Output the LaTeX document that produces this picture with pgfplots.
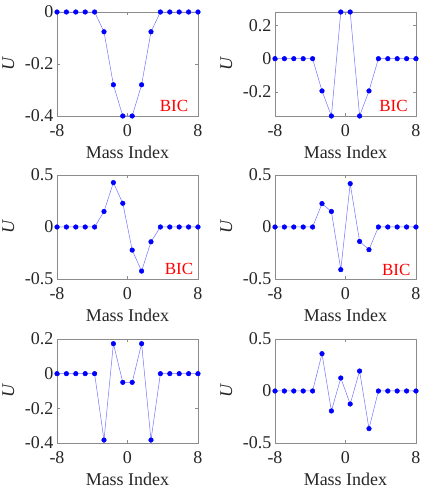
\documentclass[border=0pt]{standalone}
\usepackage{pgfplots}
\pgfplotsset{compat=1.18}
\usepackage{fontspec}
\setmainfont{Liberation Serif}

\definecolor{framegray}{gray}{0.55}
\definecolor{linecol}{rgb}{0.45,0.45,1}

\pgfplotsset{
  massplot/.style={
    anchor=south west,
    scale only axis,
    width=141pt, height=104pt,
    xmin=-8, xmax=8,
    xtick={-8,0,8}, xticklabels={-8,0,8},
    axis line style={framegray},
    tick style={framegray},
    tick align=inside,
    major tick length=3pt,
    every tick label/.append style={font=\fontsize{18}{20}\selectfont, black!85},
    xticklabel style={yshift=-5pt},
    xlabel={Mass Index},
    ylabel={\textit{U}},
    label style={font=\fontsize{18}{20}\selectfont, black!85},
    xlabel style={at={(axis description cs:0.5,-0.35)}, anchor=center},
    ylabel style={at={(axis description cs:-0.345,0.5)}, anchor=center},
    clip=false,
  },
  modeline/.style={
    color=linecol, line width=0.5pt,
    mark=*, mark size=2.3pt, mark options={draw=blue, fill=blue},
  },
}
\tikzset{bic/.style={red, font=\fontsize{17}{19}\selectfont}}

\begin{document}
\begin{tikzpicture}
\path[use as bounding box] (0,0) rectangle (436pt,491pt);

% row 1, left
\begin{axis}[massplot, at={(57pt,375pt)},
  ymin=-0.4, ymax=0,
  ytick={-0.4,-0.2,0}, yticklabels={-0.4,-0.2,0}]
  \addplot[modeline] coordinates {
    (-8,0) (-6.9333,0) (-5.8667,0) (-4.8,0) (-3.7333,0) (-2.6667,-0.076)
    (-1.6,-0.28) (-0.5333,-0.4) (0.5333,-0.4) (1.6,-0.28) (2.6667,-0.076)
    (3.7333,0) (4.8,0) (5.8667,0) (6.9333,0) (8,0) };
  \node[bic] at (rel axis cs:0.83,0.1) {BIC};
\end{axis}

% row 1, right
\begin{axis}[massplot, at={(275pt,375pt)},
  ymin=-0.345, ymax=0.281,
  ytick={-0.2,0,0.2}, yticklabels={-0.2,0,0.2}]
  \addplot[modeline] coordinates {
    (-8,0) (-6.9333,0) (-5.8667,0) (-4.8,0) (-3.7333,0) (-2.6667,-0.194)
    (-1.6,-0.345) (-0.5333,0.281) (0.5333,0.281) (1.6,-0.345) (2.6667,-0.194)
    (3.7333,0) (4.8,0) (5.8667,0) (6.9333,0) (8,0) };
  \node[bic] at (rel axis cs:0.84,0.1) {BIC};
\end{axis}

% row 2, left
\begin{axis}[massplot, at={(57pt,212pt)},
  ymin=-0.5, ymax=0.5,
  ytick={-0.5,0,0.5}, yticklabels={-0.5,0,0.5}]
  \addplot[modeline] coordinates {
    (-8,0) (-6.9333,0) (-5.8667,0) (-4.8,0) (-3.7333,0) (-2.6667,0.149)
    (-1.6,0.427) (-0.5333,0.228) (0.5333,-0.222) (1.6,-0.424) (2.6667,-0.142)
    (3.7333,0) (4.8,0) (5.8667,0) (6.9333,0) (8,0) };
  \node[bic] at (rel axis cs:0.865,0.1) {BIC};
\end{axis}

% row 2, right
\begin{axis}[massplot, at={(275pt,212pt)},
  ymin=-0.5, ymax=0.5,
  ytick={-0.5,0,0.5}, yticklabels={-0.5,0,0.5}]
  \addplot[modeline] coordinates {
    (-8,0) (-6.9333,0) (-5.8667,0) (-4.8,0) (-3.7333,0) (-2.6667,0.225)
    (-1.6,0.149) (-0.5333,-0.41) (0.5333,0.417) (1.6,-0.139) (2.6667,-0.218)
    (3.7333,0) (4.8,0) (5.8667,0) (6.9333,0) (8,0) };
  \node[bic] at (rel axis cs:0.86,0.09) {BIC};
\end{axis}

% row 3, left
\begin{axis}[massplot, at={(57pt,48pt)},
  ymin=-0.4, ymax=0.2,
  ytick={-0.4,-0.2,0,0.2}, yticklabels={-0.4,-0.2,0,0.2}]
  \addplot[modeline] coordinates {
    (-8,0) (-6.9333,0) (-5.8667,0) (-4.8,0) (-3.7333,0) (-2.6667,-0.383)
    (-1.6,0.173) (-0.5333,-0.05) (0.5333,-0.05) (1.6,0.173) (2.6667,-0.383)
    (3.7333,0) (4.8,0) (5.8667,0) (6.9333,0) (8,0) };
\end{axis}

% row 3, right
\begin{axis}[massplot, at={(275pt,48pt)},
  ymin=-0.5, ymax=0.5,
  ytick={-0.5,0,0.5}, yticklabels={-0.5,0,0.5}]
  \addplot[modeline] coordinates {
    (-8,0) (-6.9333,0) (-5.8667,0) (-4.8,0) (-3.7333,0) (-2.6667,0.359)
    (-1.6,-0.192) (-0.5333,0.125) (0.5333,-0.125) (1.6,0.192) (2.6667,-0.362)
    (3.7333,0) (4.8,0) (5.8667,0) (6.9333,0) (8,0) };
\end{axis}
\end{tikzpicture}
\end{document}
